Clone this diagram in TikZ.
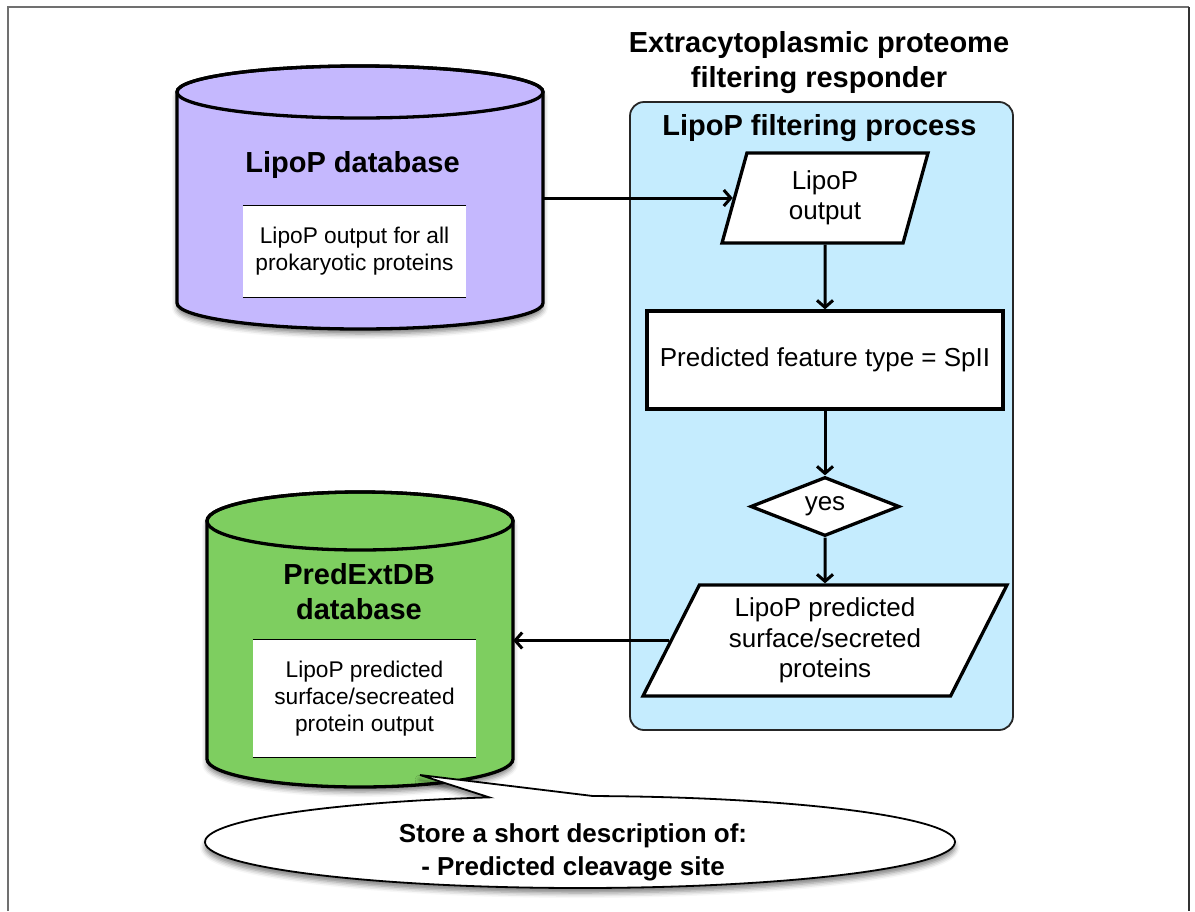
\documentclass[tikz,border=0pt]{standalone}
\usepackage{fontspec}
\setmainfont{Liberation Sans}
\usetikzlibrary{shapes.geometric, arrows.meta, shadows.blur}

\definecolor{dbviolet}{RGB}{197,184,254}
\definecolor{dbgreen}{RGB}{126,206,96}
\definecolor{procblue}{RGB}{197,236,254}
\definecolor{framegray}{RGB}{112,112,112}
\definecolor{framedark}{RGB}{50,50,50}

\begin{document}
\begin{tikzpicture}[x=1pt, y=-1pt,
  heading/.style={font=\fontsize{29}{35}\selectfont\bfseries, align=center, inner sep=0pt},
  flowtext/.style={font=\fontsize{26}{30.5}\selectfont, align=center},
  boxtext/.style={font=\fontsize{22.7}{27}\selectfont, align=center},
  flowbox/.style={draw=black, line width=3.3pt, fill=white, inner sep=0pt, flowtext},
  slanted/.style={trapezium, trapezium stretches body,
    trapezium left angle=#1, trapezium right angle=180-#1},
  conn/.style={line width=3pt, -{Straight Barb[length=7pt, width=16pt]}},
  softshadow/.style={blur shadow={shadow xshift=0pt, shadow yshift=-5pt,
    shadow blur radius=5pt, shadow opacity=50}},
  innerbox/.style={fill=white, inner sep=0pt, boxtext},
]
\useasboundingbox (0,0) rectangle (1195,911);

% page frame
\draw[framegray, line width=1.5pt] (8,911) -- (8,7) -- (1189,7);
\draw[framedark, line width=1.5pt] (1189,7) -- (1189,911);

% ---------- LipoP database cylinder ----------
\path[fill=dbviolet, draw=black, line width=3.3pt, softshadow]
  (177,92) -- (177,303)
  arc[start angle=180, end angle=0, x radius=183, y radius=26]
  -- (543,92)
  arc[start angle=0, end angle=-180, x radius=183, y radius=26] -- cycle;
\draw[line width=3.3pt] (360,92) ellipse[x radius=183, y radius=26];
\node[inner sep=0pt, minimum width=366, minimum height=211] (lipodb) at (360,198) {};
\node[heading] (lipodbtitle) at (352.5,165) {LipoP database};
\node[innerbox, minimum width=223, minimum height=91] (lipobox) at (354.5,251.5)
  {LipoP output for all\\prokaryotic proteins};
\draw[line width=1pt] (lipobox.north west) -- (lipobox.north east)
  (lipobox.south west) -- (lipobox.south east);

% ---------- PredExtDB database cylinder ----------
\path[fill=dbgreen, draw=black, line width=3.3pt, softshadow]
  (207,521) -- (207,759)
  arc[start angle=180, end angle=0, x radius=153, y radius=28]
  -- (513,521)
  arc[start angle=0, end angle=-180, x radius=153, y radius=29] -- cycle;
\draw[line width=3.3pt] (360,521) ellipse[x radius=153, y radius=29];
\node[inner sep=0pt, minimum width=306, minimum height=238] (extdb) at (360,640) {};
\node[heading] (extdbtitle) at (359,592) {PredExtDB\\database};
\node[innerbox, minimum width=223, minimum height=117] (extbox) at (364.5,698.5)
  {LipoP predicted\\surface/secreated\\protein output};
\draw[line width=1pt] (extbox.north west) -- (extbox.north east)
  (extbox.south west) -- (extbox.south east);

% ---------- responder panel ----------
\node[heading] (respondertitle) at (819,62.5)
  {Extracytoplasmic proteome\\filtering responder};
\node[draw=black!85, line width=1.8pt, fill=procblue, rounded corners=14pt,
  minimum width=383, minimum height=628, inner sep=0pt] (responder) at (821.5,416) {};
\node[heading] (processtitle) at (819.5,128) {LipoP filtering process};

% ---------- flow inside the panel ----------
\node[flowbox, slanted=65.5, minimum width=206, minimum height=90] (lout)
  at (825,198) {LipoP\\output};
\node[flowbox, minimum width=356, minimum height=98] (feature)
  at (825,360) {Predicted feature type = SpII};
\node[flowbox, diamond, aspect=2.5, minimum width=149, minimum height=59] (yes)
  at (825,506.5) {yes};
\node[flowbox, slanted=56.5, minimum width=364, minimum height=111] (lsec)
  at (825,640.5) {LipoP predicted\\surface/secreted\\proteins};

\draw[conn] (lipodb.east |- lout.left side) -- (lout.left side);
\draw[conn] (lout.south) -- (feature.north);
\draw[conn] (feature.south) -- (yes.north);
\draw[conn] (yes.south) -- (lsec.north);
\draw[conn] (lsec.left side) -- (extdb.east |- lsec.left side);

% ---------- callout ----------
\coordinate (calltip) at (420,775);
\path[fill=white, draw=black, line width=1.8pt, softshadow]
  (580,842) ++(272:375 and 46)
  arc[start angle=272, end angle=616, x radius=375, y radius=46]
  -- (calltip) -- cycle;
\node[font=\fontsize{26}{33}\selectfont\bfseries, align=center, inner sep=0pt] (note)
  at (573,852) {Store a short description of:\\- Predicted cleavage site};
\end{tikzpicture}
\end{document}
